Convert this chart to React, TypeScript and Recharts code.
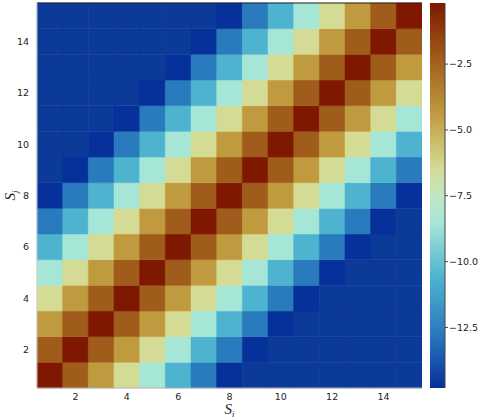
import React from 'react';
import { BarChart, Bar, XAxis, YAxis, Cell, ReferenceLine, Label } from 'recharts';

// ---- data -------------------------------------------------------------
const COLS = [1, 2, 3, 4, 5, 6, 7, 8, 9, 10, 11, 12, 13, 14, 15]; // S_i
const ROWS = [1, 2, 3, 4, 5, 6, 7, 8, 9, 10, 11, 12, 13, 14, 15]; // S_j
const X_TICKS = [2, 4, 6, 8, 10, 12, 14];
const Y_TICKS = [2, 4, 6, 8, 10, 12, 14];
const CB_TICKS = [-12.5, -10, -7.5, -5, -2.5];
const CB_MIN = -14.8;
const CB_MAX = -0.18;

// values (null = below colour range)
const ROW_1 = [-0.18, -2.27, -4.36, -6.45, -8.53, -10.62, -12.71, -14.8, null, null, null, null, null, null, null];
const ROW_2 = [-2.27, -0.18, -2.27, -4.36, -6.45, -8.53, -10.62, -12.71, -14.8, null, null, null, null, null, null];
const ROW_3 = [-4.36, -2.27, -0.18, -2.27, -4.36, -6.45, -8.53, -10.62, -12.71, -14.8, null, null, null, null, null];
const ROW_4 = [-6.45, -4.36, -2.27, -0.18, -2.27, -4.36, -6.45, -8.53, -10.62, -12.71, -14.8, null, null, null, null];
const ROW_5 = [-8.53, -6.45, -4.36, -2.27, -0.18, -2.27, -4.36, -6.45, -8.53, -10.62, -12.71, -14.8, null, null, null];
const ROW_6 = [-10.62, -8.53, -6.45, -4.36, -2.27, -0.18, -2.27, -4.36, -6.45, -8.53, -10.62, -12.71, -14.8, null, null];
const ROW_7 = [-12.71, -10.62, -8.53, -6.45, -4.36, -2.27, -0.18, -2.27, -4.36, -6.45, -8.53, -10.62, -12.71, -14.8, null];
const ROW_8 = [-14.8, -12.71, -10.62, -8.53, -6.45, -4.36, -2.27, -0.18, -2.27, -4.36, -6.45, -8.53, -10.62, -12.71, -14.8];
const ROW_9 = [null, -14.8, -12.71, -10.62, -8.53, -6.45, -4.36, -2.27, -0.18, -2.27, -4.36, -6.45, -8.53, -10.62, -12.71];
const ROW_10 = [null, null, -14.8, -12.71, -10.62, -8.53, -6.45, -4.36, -2.27, -0.18, -2.27, -4.36, -6.45, -8.53, -10.62];
const ROW_11 = [null, null, null, -14.8, -12.71, -10.62, -8.53, -6.45, -4.36, -2.27, -0.18, -2.27, -4.36, -6.45, -8.53];
const ROW_12 = [null, null, null, null, -14.8, -12.71, -10.62, -8.53, -6.45, -4.36, -2.27, -0.18, -2.27, -4.36, -6.45];
const ROW_13 = [null, null, null, null, null, -14.8, -12.71, -10.62, -8.53, -6.45, -4.36, -2.27, -0.18, -2.27, -4.36];
const ROW_14 = [null, null, null, null, null, null, -14.8, -12.71, -10.62, -8.53, -6.45, -4.36, -2.27, -0.18, -2.27];
const ROW_15 = [null, null, null, null, null, null, null, -14.8, -12.71, -10.62, -8.53, -6.45, -4.36, -2.27, -0.18];
const MATRIX = [ROW_1, ROW_2, ROW_3, ROW_4, ROW_5, ROW_6, ROW_7, ROW_8, ROW_9, ROW_10, ROW_11, ROW_12, ROW_13, ROW_14, ROW_15];

// ---- colormap ---------------------------------------------------------
const CMAP_POS = [0, 0.143, 0.286, 0.429, 0.5, 0.571, 0.714, 0.857, 1];
const CMAP_COL = ['#06309a', '#2a7bbd', '#4db3cf', '#a6e6d6', '#bfe7c3', '#d4db94', '#c09a3e', '#a05c1a', '#7f1800'];
const UNDER_COLOR = '#0c3a98';

function hexToRgb(h: string) {
  const n = parseInt(h.slice(1), 16);
  return [(n >> 16) & 255, (n >> 8) & 255, n & 255];
}
function colorAt(t: number) {
  const tt = Math.max(0, Math.min(1, t));
  for (let k = 0; k < CMAP_POS.length - 1; k++) {
    if (tt <= CMAP_POS[k + 1]) {
      const f = (tt - CMAP_POS[k]) / (CMAP_POS[k + 1] - CMAP_POS[k]);
      const a = hexToRgb(CMAP_COL[k]);
      const b = hexToRgb(CMAP_COL[k + 1]);
      const c = a.map((v, m) => Math.round(v + (b[m] - v) * f));
      return `rgb(${c[0]},${c[1]},${c[2]})`;
    }
  }
  return CMAP_COL[CMAP_COL.length - 1];
}
function colorOf(v: number | null) {
  if (v === null || v === undefined) return UNDER_COLOR;
  return colorAt((v - CB_MIN) / (CB_MAX - CB_MIN));
}

// table for the stacked bars: one stack per column, one unit-high segment per row
const barData = COLS.map((i) => {
  const o: Record<string, number> = { i };
  ROWS.forEach((j) => {
    o[`r${j}`] = 1;
  });
  return o;
});

const cbData = [{ name: 'cb', range: [CB_MIN, CB_MAX] }];

const tickStyle = { fontFamily: 'DejaVu Sans', fontSize: 9.5, fill: '#222' };

const XTitle = (props: any) => {
  const vb = props.viewBox || { x: 37, y: 388, width: 385, height: 30 };
  return (
    <text x={vb.x + vb.width / 2} y={vb.y + 26} textAnchor="middle" fontFamily="Liberation Serif" fontStyle="italic" fontSize={15} fill="#222">
      S<tspan fontSize={9} dy={3}>i</tspan>
    </text>
  );
};

const YTitle = (props: any) => {
  const vb = props.viewBox || { x: 7, y: 3, width: 30, height: 385 };
  const cx = vb.x + 8;
  const cy = vb.y + vb.height / 2;
  return (
    <text x={cx} y={cy} transform={`rotate(-90, ${cx}, ${cy})`} textAnchor="middle" fontFamily="Liberation Serif" fontStyle="italic" fontSize={15} fill="#222">
      S<tspan fontSize={9} dy={3}>j</tspan>
    </text>
  );
};

export default function App() {
  return (
    <div style={{ position: 'absolute', left: 0, top: 0, width: 478, height: 418, background: '#fff' }}>
      <div style={{ position: 'absolute', left: 0, top: 0 }}>
        <BarChart width={422} height={418} data={barData} margin={{ top: 3, right: 0, left: 7, bottom: 0 }} barCategoryGap={0} barGap={0}>
          <XAxis
            dataKey="i"
            type="category"
            interval={0}
            height={30}
            tickLine={false}
            tickSize={3}
            tickMargin={2}
            axisLine={{ stroke: '#b4b4b4' }}
            tick={tickStyle}
            tickFormatter={(v: any) => (X_TICKS.includes(Number(v)) ? String(v) : '')}
          >
            <Label content={XTitle} />
          </XAxis>
          <YAxis
            type="number"
            domain={[0, ROWS.length]}
            ticks={Y_TICKS.map((v) => v - 0.5)}
            tickFormatter={(v: number) => String(v + 0.5)}
            width={30}
            tickLine={false}
            tickSize={6}
            tickMargin={2}
            axisLine={{ stroke: '#c8c8c8' }}
            tick={tickStyle}
          >
            <Label content={YTitle} />
          </YAxis>
          {ROWS.map((j, rIdx) => (
            <Bar key={j} dataKey={`r${j}`} stackId="s" isAnimationActive={false}>
              {COLS.map((i, cIdx) => {
                const c = colorOf(MATRIX[rIdx][cIdx]);
                return <Cell key={i} fill={c} stroke={c} strokeWidth={0.5} />;
              })}
            </Bar>
          ))}
          <ReferenceLine y={ROWS.length} stroke="#222" strokeWidth={1} />
        </BarChart>
      </div>
      <div style={{ position: 'absolute', left: 430, top: 0 }}>
        <BarChart width={48} height={418} data={cbData} margin={{ top: 3, right: 0, left: 0, bottom: 30 }} barCategoryGap={0}>
          <defs>
            <linearGradient id="cbGrad" x1="0" y1="0" x2="0" y2="1">
              {CMAP_POS.map((p, k) => (
                <stop key={k} offset={1 - p} stopColor={CMAP_COL[k]} />
              )).reverse()}
            </linearGradient>
          </defs>
          <XAxis dataKey="name" hide />
          <YAxis
            orientation="right"
            type="number"
            domain={[CB_MIN, CB_MAX]}
            allowDataOverflow
            ticks={CB_TICKS}
            width={33}
            tickSize={3}
            tickMargin={1}
            axisLine={{ stroke: '#444' }}
            tickLine={{ stroke: '#444' }}
            tick={tickStyle}
            tickFormatter={(v: number) => '\u2212' + Math.abs(v).toFixed(1)}
          />
          <Bar dataKey="range" fill="url(#cbGrad)" isAnimationActive={false} />
        </BarChart>
      </div>
    </div>
  );
}
